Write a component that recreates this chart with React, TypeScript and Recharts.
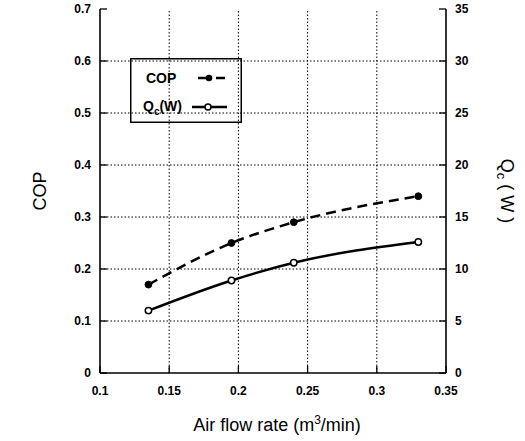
import React from 'react';
import { ComposedChart, Line, XAxis, YAxis, ReferenceLine, Legend, Label } from 'recharts';

// Data
const airFlow = [0.135, 0.195, 0.24, 0.33];
const copValues = [0.17, 0.25, 0.29, 0.34];
const qcValues = [6.0, 8.9, 10.6, 12.6];

// Tick values (major labelled, minor unlabelled)
const xMajor = [0.1, 0.15, 0.2, 0.25, 0.3, 0.35];
const xMinor = [0.11, 0.12, 0.13, 0.14, 0.16, 0.17, 0.18, 0.19, 0.21, 0.22, 0.23, 0.24, 0.26, 0.27, 0.28, 0.29, 0.31, 0.32, 0.33, 0.34];
const copMajor = [0, 0.1, 0.2, 0.3, 0.4, 0.5, 0.6, 0.7];
const copMinor = [0.02, 0.04, 0.06, 0.08, 0.12, 0.14, 0.16, 0.18, 0.22, 0.24, 0.26, 0.28, 0.32, 0.34, 0.36, 0.38, 0.42, 0.44, 0.46, 0.48, 0.52, 0.54, 0.56, 0.58, 0.62, 0.64, 0.66, 0.68];
const qcMajor = [0, 5, 10, 15, 20, 25, 30, 35];
const qcMinor = [1, 2, 3, 4, 6, 7, 8, 9, 11, 12, 13, 14, 16, 17, 18, 19, 21, 22, 23, 24, 26, 27, 28, 29, 31, 32, 33, 34];
const xGrid = [0.15, 0.2, 0.25, 0.3];
const yGrid = [0.1, 0.2, 0.3, 0.4, 0.5, 0.6];

const rows = airFlow.map((x, i) => ({ x, cop: copValues[i], qc: qcValues[i] }));

const FONT = '"Liberation Sans", Arial, sans-serif';
const tickStyle = { fontFamily: FONT, fontSize: 12, fontWeight: 'bold', fill: '#000' };
const tickLine = { stroke: '#000', strokeWidth: 1.3 };
const axisLine = { stroke: '#000', strokeWidth: 1.6 };

const LeftTitle = (props: any) => {
  const vb = props.viewBox;
  const cx = vb.x + 40;
  const cy = vb.y + vb.height / 2;
  return (
    <text x={cx} y={cy} transform={`rotate(-90 ${cx} ${cy})`} textAnchor="middle" dominantBaseline="central" fontFamily={FONT} fontSize={18} fill="#000">
      COP
    </text>
  );
};

const RightTitle = (props: any) => {
  const vb = props.viewBox;
  const cx = vb.x + 61;
  const cy = vb.y + vb.height / 2;
  return (
    <text x={cx} y={cy} transform={`rotate(90 ${cx} ${cy})`} textAnchor="middle" dominantBaseline="central" fontFamily={FONT} fontSize={18} fill="#000">
      Q<tspan dy={5} fontSize={13}>c</tspan>
      <tspan dy={-5}> ( W )</tspan>
    </text>
  );
};

const BottomTitle = (props: any) => {
  const vb = props.viewBox;
  const cx = vb.x + vb.width / 2 + 4;
  return (
    <text x={cx} y={vb.y + 58} textAnchor="middle" fontFamily={FONT} fontSize={18} fill="#000">
      Air flow rate (m<tspan dy={-7} fontSize={12}>3</tspan>
      <tspan dy={7}>/min)</tspan>
    </text>
  );
};

const LegendBox = () => (
  <svg width={112} height={65} style={{ display: 'block' }}>
    <rect x={0.75} y={0.75} width={110.5} height={63.5} fill="none" stroke="#000" strokeWidth={1.5} />
    <text x={16} y={25} fontFamily={FONT} fontSize={14} fontWeight="bold" fill="#000">COP</text>
    <line x1={68} y1={20} x2={95} y2={20} stroke="#000" strokeWidth={2.5} strokeDasharray="14 4 10" />
    <circle cx={79} cy={20} r={3.3} fill="#000" />
    <text x={13} y={53} fontFamily={FONT} fontSize={14} fontWeight="bold" fill="#000">
      Q<tspan dy={4} fontSize={10}>c</tspan>
      <tspan dy={-4}>(W)</tspan>
    </text>
    <line x1={62} y1={49} x2={97} y2={49} stroke="#000" strokeWidth={2.5} />
    <circle cx={78} cy={49} r={3} fill="#fff" stroke="#000" strokeWidth={1.5} />
  </svg>
);

export default function App() {
  return (
    <div style={{ position: 'absolute', left: 0, top: 0, background: '#fff' }}>
      <ComposedChart width={525} height={441} data={rows} margin={{ top: 9, right: 0, bottom: 0, left: 0 }}>
        <XAxis
          xAxisId="b"
          dataKey="x"
          type="number"
          domain={[0.1, 0.35]}
          ticks={xMajor}
          interval={0}
          tickSize={-7}
          tickMargin={20}
          height={68}
          tick={tickStyle}
          tickFormatter={(v: number) => String(v)}
          axisLine={axisLine}
          tickLine={tickLine}
        >
          <Label content={(p: any) => <BottomTitle {...p} />} />
        </XAxis>
        <XAxis
          xAxisId="bm"
          dataKey="x"
          type="number"
          domain={[0.1, 0.35]}
          ticks={xMinor}
          interval={0}
          tickSize={-4}
          height={0}
          tick={false}
          axisLine={false}
          tickLine={tickLine}
        />
        <XAxis
          xAxisId="t"
          orientation="top"
          dataKey="x"
          type="number"
          domain={[0.1, 0.35]}
          ticks={xMajor}
          interval={0}
          tickSize={-7}
          height={0}
          tick={false}
          axisLine={axisLine}
          tickLine={tickLine}
        />
        <XAxis
          xAxisId="tm"
          orientation="top"
          dataKey="x"
          type="number"
          domain={[0.1, 0.35]}
          ticks={xMinor}
          interval={0}
          tickSize={-4}
          height={0}
          tick={false}
          axisLine={false}
          tickLine={tickLine}
        />
        <YAxis
          yAxisId="l"
          type="number"
          domain={[0, 0.7]}
          ticks={copMajor}
          interval={0}
          tickSize={-7}
          tickMargin={16}
          width={100}
          tick={tickStyle}
          tickFormatter={(v: number) => String(v)}
          axisLine={axisLine}
          tickLine={tickLine}
        >
          <Label content={(p: any) => <LeftTitle {...p} />} />
        </YAxis>
        <YAxis
          yAxisId="lm"
          type="number"
          domain={[0, 0.7]}
          ticks={copMinor}
          interval={0}
          tickSize={-4}
          width={0}
          tick={false}
          axisLine={false}
          tickLine={tickLine}
        />
        <YAxis
          yAxisId="r"
          orientation="right"
          type="number"
          domain={[0, 35]}
          ticks={qcMajor}
          interval={0}
          tickSize={-7}
          tickMargin={16}
          width={79}
          tick={tickStyle}
          axisLine={axisLine}
          tickLine={tickLine}
        >
          <Label content={(p: any) => <RightTitle {...p} />} />
        </YAxis>
        <YAxis
          yAxisId="rm"
          orientation="right"
          type="number"
          domain={[0, 35]}
          ticks={qcMinor}
          interval={0}
          tickSize={-4}
          width={0}
          tick={false}
          axisLine={false}
          tickLine={tickLine}
        />
        {xGrid.map((v) => (
          <ReferenceLine key={`gx${v}`} xAxisId="b" yAxisId="l" x={v} stroke="#000" strokeWidth={1} strokeDasharray="1.5 2" />
        ))}
        {yGrid.map((v) => (
          <ReferenceLine key={`gy${v}`} xAxisId="b" yAxisId="l" y={v} stroke="#000" strokeWidth={1} strokeDasharray="1.5 2" />
        ))}
        <Line
          xAxisId="b"
          yAxisId="l"
          dataKey="cop"
          name="COP"
          type="monotone"
          stroke="#000"
          strokeWidth={2.5}
          strokeDasharray="10 6"
          dot={{ r: 3.4, fill: '#000', stroke: '#000', strokeWidth: 1, strokeDasharray: '' }}
          activeDot={false}
          isAnimationActive={false}
        />
        <Line
          xAxisId="b"
          yAxisId="r"
          dataKey="qc"
          name="Qc(W)"
          type="monotone"
          stroke="#000"
          strokeWidth={2.5}
          dot={{ r: 3.2, fill: '#fff', stroke: '#000', strokeWidth: 1.5 }}
          activeDot={false}
          isAnimationActive={false}
        />
        <Legend
          layout="horizontal"
          verticalAlign="middle"
          align="center"
          width={112}
          height={65}
          wrapperStyle={{ position: 'absolute', left: 130, top: 58, width: 112, height: 65 }}
          content={() => <LegendBox />}
        />
      </ComposedChart>
    </div>
  );
}
